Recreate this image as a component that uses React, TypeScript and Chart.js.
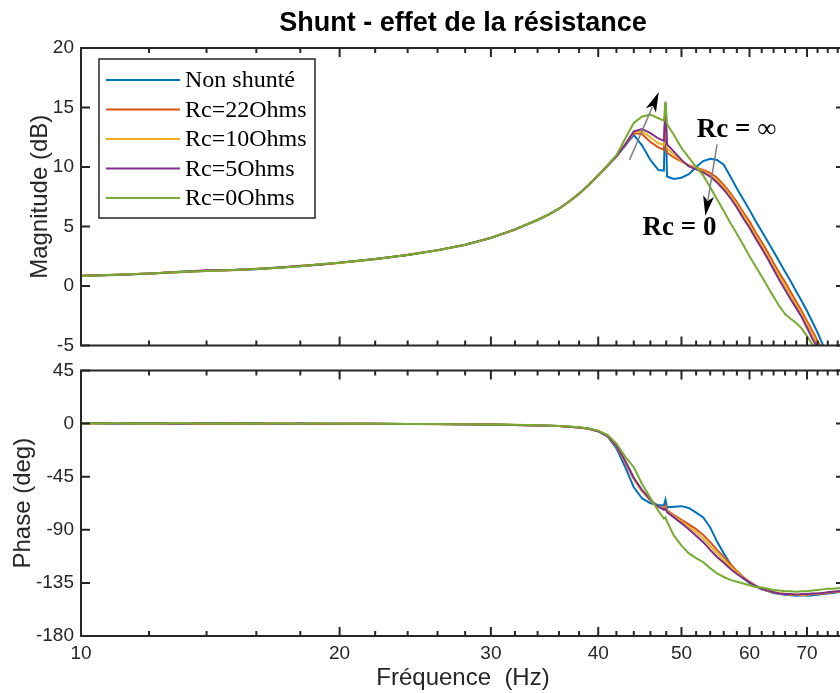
import React, { useEffect, useRef } from "react";
import { Chart, registerables } from "chart.js";

Chart.register(...registerables);

// ---------------- DATA ----------------
const frequencies = [
  10, 11, 12, 13, 14, 15, 16, 17, 18, 19, 20,
  22, 24, 26, 28, 30, 32, 34,
  35, 36, 37, 38, 39, 40, 41, 42, 43, 44, 45, 46, 47,
  47.7, 47.9, 48.1,
  49, 50, 51, 52, 53, 54, 55, 56, 57, 58, 59, 60, 61, 62, 63, 64, 65, 66, 67, 68, 69, 70, 71, 72, 73, 74, 75, 76,
  77.5,
];

const seriesLabels = ["Non shunté", "Rc=22Ohms", "Rc=10Ohms", "Rc=5Ohms", "Rc=0Ohms"];
const seriesColors = ["#0072BD", "#D95319", "#EDB120", "#7E2F8E", "#77AC30"];

const magNonShunte = [
  0.85, 0.95, 1.04, 1.2, 1.27, 1.36, 1.42, 1.56, 1.67, 1.83, 1.95,
  2.28, 2.6, 3.0, 3.48, 4.04, 4.76, 5.55,
  6.0, 6.5, 7.1, 7.75, 8.5, 9.3, 10.1, 10.9, 11.8, 12.7, 11.8, 10.6, 9.75,
  9.7, 15.4, 9.2,
  9.0, 9.1, 9.4, 10.0, 10.5, 10.7, 10.6, 10.2, 9.2, 8.2, 7.3, 6.4, 5.45, 4.6, 3.75, 2.9, 2.05, 1.2, 0.4, -0.45, -1.25, -2.1, -3.0, -3.9, -4.9, -5.8, -6.7, -7.6,
  -8.9,
];
const magRc22 = [
  0.86, 0.96, 1.06, 1.17, 1.29, 1.33, 1.45, 1.54, 1.7, 1.81, 1.96,
  2.26, 2.63, 3.01, 3.46, 4.06, 4.74, 5.56,
  6.0, 6.5, 7.1, 7.75, 8.5, 9.3, 10.1, 10.9, 11.85, 12.85, 12.75, 12.1, 11.65,
  11.45, 14.6, 11.2,
  10.8, 10.45, 10.15, 9.95, 9.75, 9.5, 9.1, 8.5, 7.8, 7.05, 6.2, 5.45, 4.5, 3.7, 2.85, 1.95, 1.1, 0.35, -0.5, -1.3, -2.1, -2.95, -3.75, -4.6, -5.4, -6.2, -7.0, -7.8,
  -9.0,
];
const magRc10 = [
  0.84, 0.96, 1.05, 1.19, 1.28, 1.35, 1.44, 1.55, 1.69, 1.82, 1.94,
  2.27, 2.62, 3.0, 3.47, 4.05, 4.75, 5.55,
  6.0, 6.5, 7.1, 7.75, 8.5, 9.3, 10.1, 10.9, 11.9, 12.95, 13.0, 12.5, 12.0,
  11.85, 14.8, 11.55,
  11.05, 10.5, 10.1, 9.9, 9.65, 9.35, 8.9, 8.3, 7.6, 6.85, 5.95, 5.15, 4.25, 3.4, 2.55, 1.65, 0.8, 0.0, -0.8, -1.6, -2.35, -3.2, -4.05, -4.9, -5.7, -6.5, -7.3, -8.1,
  -9.3,
];
const magRc5 = [
  0.87, 0.94, 1.06, 1.18, 1.33, 1.36, 1.43, 1.56, 1.68, 1.8, 1.97,
  2.27, 2.61, 3.02, 3.47, 4.05, 4.75, 5.56,
  6.0, 6.5, 7.1, 7.75, 8.5, 9.3, 10.1, 10.9, 11.9, 13.0, 13.2, 12.85, 12.4,
  12.2, 15.0, 11.9,
  11.3, 10.6, 10.05, 9.8, 9.55, 9.2, 8.7, 8.1, 7.4, 6.6, 5.7, 4.9, 4.0, 3.15, 2.3, 1.4, 0.5, -0.3, -1.1, -1.85, -2.6, -3.5, -4.4, -5.2, -6.0, -6.8, -7.6, -8.4,
  -9.5,
];
const magRc0 = [
  0.85, 0.96, 1.05, 1.19, 1.27, 1.35, 1.44, 1.55, 1.67, 1.83, 1.95,
  2.27, 2.62, 3.01, 3.47, 4.05, 4.76, 5.55,
  6.0, 6.5, 7.1, 7.75, 8.5, 9.3, 10.15, 11.0, 12.4, 13.7, 14.25, 14.4, 14.1,
  13.9, 15.5, 13.6,
  12.7, 11.6, 10.8, 10.0, 9.3, 8.3, 7.3, 6.3, 5.3, 4.4, 3.45, 2.5, 1.65, 0.8, -0.05, -0.9, -1.7, -2.35, -2.75, -3.1, -3.55, -4.2, -4.9, -5.6, -6.3, -7.0, -7.7, -8.4,
  -9.5,
];

const phaseNonShunte = [
  0.3, 0.1, 0.3, 0.0, 0.1, -0.1, 0.2, -0.1, 0.0, -0.3, -0.1,
  -0.3, -0.5, -0.4, -0.7, -0.9, -1.2, -1.6,
  -1.9, -2.2, -2.7, -3.4, -4.5, -6.6, -11.0, -21, -37, -54, -63.5, -67.5, -69,
  -69.5, -64.5, -71,
  -70.5, -70, -71.5, -75.5, -79.5, -88, -100, -110, -119, -126, -131, -135, -138, -140.5, -142, -143.5, -144.5, -145, -145.5, -146, -145.5, -146, -145.5, -145, -144.5, -144, -143.5, -143,
  -142,
];
const phaseRc22 = [
  0.2, 0.3, 0.1, 0.2, -0.1, 0.1, 0.0, 0.1, -0.2, -0.1, -0.2,
  -0.2, -0.4, -0.6, -0.6, -0.9, -1.2, -1.6,
  -1.9, -2.2, -2.7, -3.4, -4.5, -6.5, -10.5, -19.5, -33, -47, -57.5, -65, -70.5,
  -72, -69.5, -73.5,
  -77.5, -81.5, -85.5, -89.5, -94.5, -100.5, -107, -113, -119, -125, -130, -134, -137.5, -140, -142, -143, -144, -144.5, -145, -145, -145.5, -145, -144.5, -144.5, -144, -143.5, -143, -142.5,
  -142,
];
const phaseRc10 = [
  0.1, 0.2, 0.2, 0.1, 0.0, 0.2, -0.1, 0.0, -0.1, -0.2, -0.1,
  -0.3, -0.4, -0.5, -0.7, -0.9, -1.2, -1.6,
  -1.9, -2.2, -2.7, -3.4, -4.5, -6.5, -10.5, -19.2, -32.2, -46.5, -57, -64.8, -70.5,
  -72.5, -71, -74.2,
  -78.5, -83, -87.5, -92.2, -97.5, -103.8, -110, -116, -121, -126, -130.5, -134.2, -137.5, -140, -141.8, -143, -144, -144.5, -144.8, -145, -145, -144.8, -144.3, -144.2, -143.8, -143.2, -142.8, -142.2,
  -141.8,
];
const phaseRc5 = [
  0.4, 0.1, 0.2, -0.1, 0.2, 0.0, 0.1, -0.2, 0.1, -0.2, -0.1,
  -0.3, -0.4, -0.5, -0.8, -0.9, -1.2, -1.6,
  -1.9, -2.2, -2.7, -3.4, -4.5, -6.5, -10.3, -19, -31.5, -46, -56.5, -64.5, -70.5,
  -73, -72, -75,
  -79.5, -84.5, -89.5, -95, -100.5, -107, -113, -118, -123, -127.5, -131, -134.5, -137.5, -140, -141.5, -143, -144, -144.5, -144.5, -145, -144.5, -144.5, -144, -144, -143.5, -143, -142.5, -142,
  -141.5,
];
const phaseRc0 = [
  0.2, 0.2, 0.0, 0.2, 0.1, 0.0, 0.1, 0.0, -0.1, 0.0, -0.2,
  -0.2, -0.4, -0.5, -0.7, -0.8, -1.1, -1.5,
  -1.8, -2.1, -2.6, -3.2, -4.2, -6.0, -9.5, -17, -28, -37, -51.5, -63, -74,
  -80.5, -79.5, -83,
  -95, -103.5, -110, -114, -117.5, -122.5, -127, -130, -132.5, -134, -135.5, -137, -138.5, -139, -140, -141, -141.5, -142, -142, -142.5, -142, -142, -141.5, -141, -140.5, -140, -140, -139.5,
  -139,
];

const magnitudeSeries = [magNonShunte, magRc22, magRc10, magRc5, magRc0];
const phaseSeries = [phaseNonShunte, phaseRc22, phaseRc10, phaseRc5, phaseRc0];

const xMajorTicks = [10, 20, 30, 40, 50, 60, 70];
const xMinorTicks = [12, 14, 16, 18, 22, 24, 26, 28, 32, 34, 36, 38, 42, 44, 46, 48, 52, 54, 56, 58, 62, 64, 66, 68, 72, 74, 76];
const magnitudeTicks = [-5, 0, 5, 10, 15, 20];
const phaseTicks = [-180, -135, -90, -45, 0, 45];
const xRange = [10, 77.5];

const chartTitle = "Shunt - effet de la résistance";
const magnitudeLabel = "Magnitude (dB)";
const phaseLabel = "Phase (deg)";
const frequencyLabel = "Fréquence  (Hz)";

// annotation anchors in data units (Hz, dB)
const arrowUp = { from: [43.5, 10.6], to: [47.05, 16.3] };
const arrowDown = { from: [55.0, 11.9], to: [53.3, 5.9] };
const labelInf = { at: [52.1, 12.5], text: "Rc = ", symbol: "∞" };
const labelZero = { at: [45.05, 4.25], text: "Rc = 0" };

// ---------------- STYLE ----------------
const SANS = '"Liberation Sans", Arial, Helvetica, sans-serif';
const SERIF = '"Liberation Serif", "Times New Roman", serif';
const AXIS = "#262626";
const CANVAS_W = 870;

function buildDatasets(series: number[][]) {
  return series.map((vals, i) => ({
    label: seriesLabels[i],
    data: vals.map((v, k) => ({ x: frequencies[k], y: v })),
    borderColor: seriesColors[i],
    backgroundColor: seriesColors[i],
    borderWidth: 2,
    pointRadius: 0,
    tension: 0,
    fill: false,
    order: series.length - i,
  }));
}

function drawFrame(chart: any) {
  const { ctx, chartArea: a } = chart;
  const xs = chart.scales.x;
  const ys = chart.scales.y;
  ctx.save();
  ctx.strokeStyle = AXIS;
  ctx.lineWidth = 2;
  ctx.beginPath();
  ctx.rect(a.left, a.top, a.right - a.left, a.bottom - a.top);
  ctx.stroke();
  ctx.beginPath();
  for (const v of xMajorTicks) {
    const p = xs.getPixelForValue(v);
    ctx.moveTo(p, a.bottom);
    ctx.lineTo(p, a.bottom - 9);
    ctx.moveTo(p, a.top);
    ctx.lineTo(p, a.top + 9);
  }
  for (const v of xMinorTicks) {
    const p = xs.getPixelForValue(v);
    ctx.moveTo(p, a.bottom);
    ctx.lineTo(p, a.bottom - 5);
    ctx.moveTo(p, a.top);
    ctx.lineTo(p, a.top + 5);
  }
  for (const t of ys.ticks) {
    const p = ys.getPixelForValue(t.value);
    ctx.moveTo(a.left, p);
    ctx.lineTo(a.left + 9, p);
    ctx.moveTo(a.right, p);
    ctx.lineTo(a.right - 9, p);
  }
  ctx.stroke();
  ctx.restore();
}

function drawArrow(ctx: CanvasRenderingContext2D, x1: number, y1: number, x2: number, y2: number) {
  const ang = Math.atan2(y2 - y1, x2 - x1);
  const c = Math.cos(ang);
  const s = Math.sin(ang);
  const headLen = 20;
  const headW = 5.5;
  const bx = x2 - headLen * c;
  const by = y2 - headLen * s;
  ctx.save();
  ctx.strokeStyle = "#808080";
  ctx.lineWidth = 1.5;
  ctx.beginPath();
  ctx.moveTo(x1, y1);
  ctx.lineTo(bx + 4 * c, by + 4 * s);
  ctx.stroke();
  ctx.fillStyle = "#000";
  ctx.beginPath();
  ctx.moveTo(x2, y2);
  ctx.lineTo(bx - headW * s, by + headW * c);
  ctx.lineTo(bx + 5 * c, by + 5 * s);
  ctx.lineTo(bx + headW * s, by - headW * c);
  ctx.closePath();
  ctx.fill();
  ctx.restore();
}

const magnitudeDecor = {
  id: "magnitudeDecor",
  afterDatasetsDraw(chart: any) {
    drawFrame(chart);
    const { ctx, chartArea: a } = chart;
    const xs = chart.scales.x;
    const ys = chart.scales.y;

    // title
    ctx.save();
    ctx.fillStyle = "#000";
    ctx.font = `bold 27px ${SANS}`;
    ctx.textAlign = "center";
    ctx.textBaseline = "alphabetic";
    ctx.fillText(chartTitle, (a.left + a.right) / 2, 31);
    ctx.restore();

    // arrows
    for (const ar of [arrowUp, arrowDown]) {
      drawArrow(
        ctx,
        xs.getPixelForValue(ar.from[0]),
        ys.getPixelForValue(ar.from[1]),
        xs.getPixelForValue(ar.to[0]),
        ys.getPixelForValue(ar.to[1])
      );
    }

    // annotation texts
    ctx.save();
    ctx.fillStyle = "#000";
    ctx.textAlign = "left";
    ctx.textBaseline = "alphabetic";
    ctx.font = `bold 27px ${SERIF}`;
    const ix = xs.getPixelForValue(labelInf.at[0]);
    const iy = ys.getPixelForValue(labelInf.at[1]);
    ctx.fillText(labelInf.text, ix, iy);
    const w = ctx.measureText(labelInf.text).width;
    ctx.font = `27px ${SERIF}`;
    ctx.fillText(labelInf.symbol, ix + w, iy);
    ctx.font = `bold 27px ${SERIF}`;
    ctx.fillText(labelZero.text, xs.getPixelForValue(labelZero.at[0]), ys.getPixelForValue(labelZero.at[1]));
    ctx.restore();

    // legend
    ctx.save();
    const bx = 99, by = 59, bw = 216, bh = 159;
    ctx.fillStyle = "#fff";
    ctx.fillRect(bx, by, bw, bh);
    ctx.strokeStyle = AXIS;
    ctx.lineWidth = 1.5;
    ctx.strokeRect(bx, by, bw, bh);
    ctx.font = `24px ${SERIF}`;
    ctx.textBaseline = "middle";
    ctx.textAlign = "left";
    seriesLabels.forEach((lab, i) => {
      const y = 80 + i * 29.5;
      ctx.strokeStyle = seriesColors[i];
      ctx.lineWidth = 2;
      ctx.beginPath();
      ctx.moveTo(106, y);
      ctx.lineTo(180, y);
      ctx.stroke();
      ctx.fillStyle = "#000";
      ctx.fillText(lab, 185, y + 1);
    });
    ctx.restore();
  },
};

const phaseDecor = {
  id: "phaseDecor",
  afterDatasetsDraw(chart: any) {
    drawFrame(chart);
  },
};

export default function App() {
  const magRef = useRef<HTMLCanvasElement | null>(null);
  const phaseRef = useRef<HTMLCanvasElement | null>(null);

  useEffect(() => {
    if (!magRef.current || !phaseRef.current) return;

    const magChart = new Chart(magRef.current, {
      type: "line",
      data: { datasets: buildDatasets(magnitudeSeries) as any },
      plugins: [magnitudeDecor],
      options: {
        animation: false,
        responsive: false,
        maintainAspectRatio: false,
        devicePixelRatio: 1,
        layout: { padding: { top: 48, right: 25, bottom: 16, left: 0 } },
        plugins: { legend: { display: false }, tooltip: { enabled: false }, title: { display: false } },
        scales: {
          x: { type: "logarithmic", min: xRange[0], max: xRange[1], display: false },
          y: {
            type: "linear",
            min: -5,
            max: 20,
            afterBuildTicks: (s: any) => {
              s.ticks = magnitudeTicks.map((v) => ({ value: v }));
            },
            afterFit: (s: any) => {
              s.width = 81;
            },
            grid: { display: false, drawTicks: false },
            border: { display: false },
            ticks: { padding: 7, color: AXIS, font: { family: SANS, size: 19 } },
            title: {
              display: true,
              text: magnitudeLabel,
              color: AXIS,
              font: { family: SANS, size: 24 },
              padding: { top: 26, bottom: 0 },
            },
          },
        },
      } as any,
    });

    const phaseChart = new Chart(phaseRef.current, {
      type: "line",
      data: { datasets: buildDatasets(phaseSeries) as any },
      plugins: [phaseDecor],
      options: {
        animation: false,
        responsive: false,
        maintainAspectRatio: false,
        devicePixelRatio: 1,
        layout: { padding: { top: 18, right: 25, bottom: 0, left: 0 } },
        plugins: { legend: { display: false }, tooltip: { enabled: false }, title: { display: false } },
        scales: {
          x: {
            type: "logarithmic",
            min: xRange[0],
            max: xRange[1],
            position: "bottom",
            afterBuildTicks: (s: any) => {
              s.ticks = xMajorTicks.map((v) => ({ value: v }));
            },
            afterFit: (s: any) => {
              s.height = 57;
            },
            grid: { display: false, drawTicks: false },
            border: { display: false },
            ticks: {
              autoSkip: false,
              maxRotation: 0,
              padding: 6,
              color: AXIS,
              font: { family: SANS, size: 19 },
              callback: (v: any) => String(v),
            },
            title: {
              display: true,
              text: frequencyLabel,
              color: AXIS,
              font: { family: SANS, size: 24 },
              padding: { top: 0, bottom: 0 },
            },
          },
          y: {
            type: "linear",
            min: -180,
            max: 45,
            afterBuildTicks: (s: any) => {
              s.ticks = phaseTicks.map((v) => ({ value: v }));
            },
            afterFit: (s: any) => {
              s.width = 81;
            },
            grid: { display: false, drawTicks: false },
            border: { display: false },
            ticks: { padding: 7, color: AXIS, font: { family: SANS, size: 19 } },
            title: {
              display: true,
              text: phaseLabel,
              color: AXIS,
              font: { family: SANS, size: 24 },
              padding: { top: 9, bottom: 0 },
            },
          },
        },
      } as any,
    });

    return () => {
      magChart.destroy();
      phaseChart.destroy();
    };
  }, []);

  return (
    <div
      style={{
        position: "absolute",
        left: 0,
        top: 0,
        width: 840,
        height: 693,
        overflow: "hidden",
        background: "#fff",
      }}
    >
      <canvas
        ref={magRef}
        width={CANVAS_W}
        height={364}
        style={{ position: "absolute", left: 0, top: 0, width: CANVAS_W, height: 364 }}
      />
      <canvas
        ref={phaseRef}
        width={CANVAS_W}
        height={341}
        style={{ position: "absolute", left: 0, top: 352, width: CANVAS_W, height: 341 }}
      />
    </div>
  );
}
